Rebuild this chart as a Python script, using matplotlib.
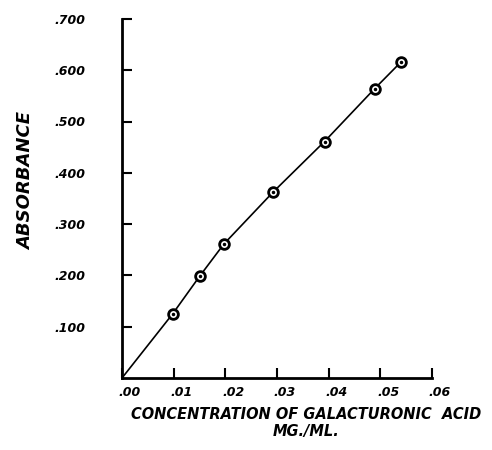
import matplotlib
matplotlib.use('Agg')
import matplotlib.pyplot as plt
import matplotlib.transforms as mtransforms
from matplotlib.ticker import FixedLocator

# concentration (mg/ml) vs absorbance
conc = [0.0, 0.0098, 0.0150, 0.0197, 0.0293, 0.0392, 0.0489, 0.0540]
absorb = [0.0, 0.125, 0.198, 0.261, 0.363, 0.461, 0.564, 0.616]

xticks = [0.0, 0.01, 0.02, 0.03, 0.04, 0.05, 0.06]
xlabels = ['.00', '.01', '.02', '.03', '.04', '.05', '.06']
yticks = [0.1, 0.2, 0.3, 0.4, 0.5, 0.6, 0.7]
ylabels = ['.100', '.200', '.300', '.400', '.500', '.600', '.700']

font = dict(family='DejaVu Sans', weight='bold', style='oblique')

fig = plt.figure(figsize=(4.92, 4.5), dpi=100)
ax = fig.add_axes([0.248, 0.16, 0.63, 0.798])

ax.plot(conc, absorb, '-', color='black', lw=1.2)
ax.plot(conc[1:], absorb[1:], 'o', mfc='white', mec='black', mew=2.0, ms=7)
ax.plot(conc[1:], absorb[1:], '.', color='black', ms=3)

ax.set_xlim(0, 0.06)
ax.set_ylim(0, 0.7)
ax.spines['top'].set_visible(False)
ax.spines['right'].set_visible(False)
ax.spines['left'].set_linewidth(2)
ax.spines['bottom'].set_linewidth(2)

ax.xaxis.set_major_locator(FixedLocator(xticks))
ax.yaxis.set_major_locator(FixedLocator(yticks))
ax.set_xticklabels(xlabels, fontsize=9, **font)
ax.set_yticklabels(ylabels, fontsize=9, **font)
ax.tick_params(axis='both', direction='in', length=7, width=1.5)
ax.tick_params(axis='y', pad=26)
ax.tick_params(axis='x', pad=6)

# labels in the scan sit a bit to the right of their ticks
offset = mtransforms.ScaledTranslation(0.08, 0, fig.dpi_scale_trans)
for lab in ax.get_xticklabels():
    lab.set_transform(lab.get_transform() + offset)

ax.set_xlabel('CONCENTRATION OF GALACTURONIC  ACID\nMG./ML.',
              fontsize=10.5, linespacing=1.1, **font)
ax.xaxis.set_label_coords(0.595, -0.082, transform=ax.transAxes)
ax.xaxis.label.set_va('top')
ax.set_ylabel('ABSORBANCE', fontsize=13, **font)
ax.yaxis.set_label_coords(-0.31, 0.549, transform=ax.transAxes)
ax.yaxis.label.set_va('center')

fig.savefig('out.png', dpi=100)
